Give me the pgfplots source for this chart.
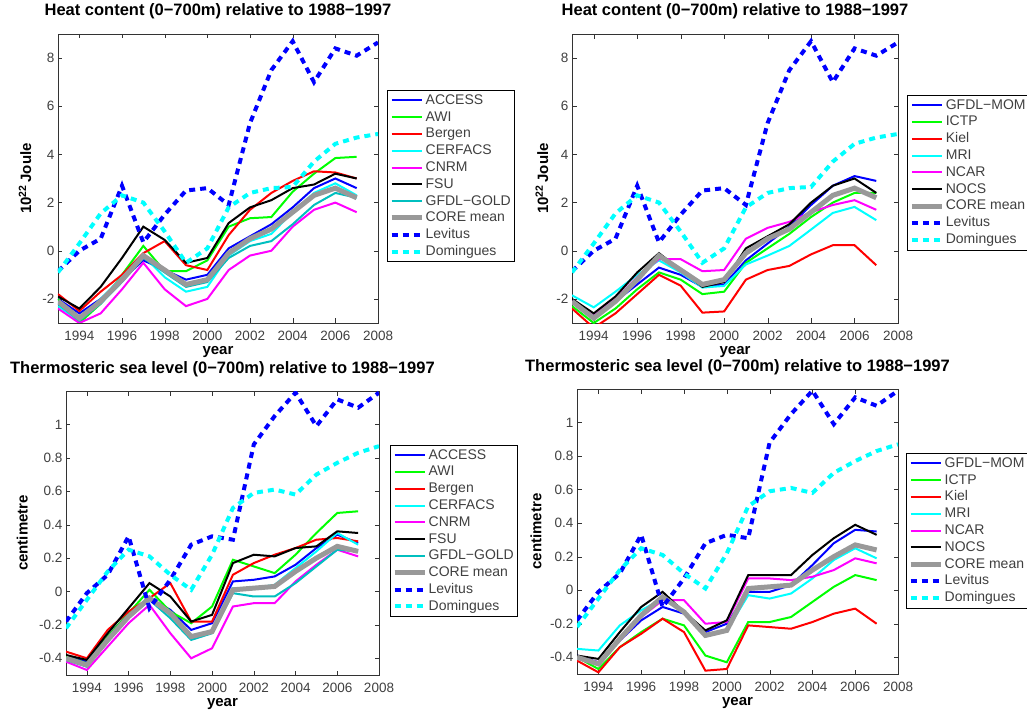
\documentclass[border=0pt]{standalone}
\usepackage{fontspec}
\setmainfont{Liberation Sans}
\usepackage{pgfplots}
\pgfplotsset{compat=1.18}
\usepackage{pgfplotstable}

\definecolor{mblue}{rgb}{0,0,1}
\definecolor{mgreen}{rgb}{0,1,0}
\definecolor{mred}{rgb}{1,0,0}
\definecolor{mcyan}{rgb}{0,1,1}
\definecolor{mmag}{rgb}{1,0,1}
\definecolor{gold}{rgb}{0,0.75,0.75}
\definecolor{coregray}{rgb}{0.6,0.6,0.6}
\definecolor{tickgray}{rgb}{0.25,0.25,0.25}

% heat content, 10^22 J
\pgfplotstableread{
year ACCESS AWI Bergen CERFACS CNRM FSU GOLD CORE
1993 -2.0 -2.0 -1.8 -2.3 -2.4 -1.9 -2.2 -2.1
1994 -2.6 -3.0 -2.5 -2.9 -3.0 -2.4 -2.9 -2.8
1995 -2.0 -2.2 -1.7 -2.0 -2.6 -1.5 -2.2 -2.1
1996 -1.2 -1.0 -1.0 -1.1 -1.6 -0.3 -1.3 -1.2
1997 -0.4 0.2 -0.1 -0.2 -0.5 1.0 -0.3 -0.2
1998 -0.8 -0.85 0.4 -1.1 -1.6 0.45 -0.9 -0.8
1999 -1.2 -0.85 -0.6 -1.7 -2.3 -0.5 -1.5 -1.4
2000 -1.0 -0.4 -0.8 -1.5 -2.0 -0.3 -1.3 -1.2
2001 0.1 1.0 0.65 -0.2 -0.8 1.15 -0.3 -0.1
2002 0.6 1.35 1.7 0.4 -0.2 1.8 0.2 0.5
2003 1.1 1.4 2.4 0.7 0.0 2.1 0.4 0.9
2004 1.8 2.45 2.9 1.6 1.0 2.6 1.1 1.6
2005 2.6 3.2 3.3 2.4 1.7 2.75 1.9 2.3
2006 3.0 3.85 3.25 2.8 2.0 3.2 2.4 2.6
2007 2.6 3.9 3.0 2.3 1.6 3.0 2.2 2.2
}\hcA

\pgfplotstableread{
year MOM ICTP Kiel MRI NCAR NOCS CORE
1993 -2.1 -2.3 -2.4 -1.85 -2.1 -2.0 -2.1
1994 -2.7 -3.0 -3.2 -2.35 -2.7 -2.6 -2.8
1995 -2.1 -2.4 -2.6 -1.7 -2.0 -1.9 -2.1
1996 -1.4 -1.6 -1.8 -1.0 -1.1 -0.9 -1.2
1997 -0.7 -0.9 -1.0 -0.4 -0.35 -0.1 -0.2
1998 -1.0 -1.2 -1.45 -0.9 -0.35 -0.8 -0.8
1999 -1.5 -1.8 -2.57 -1.53 -0.85 -1.5 -1.4
2000 -1.4 -1.7 -2.52 -1.46 -0.8 -1.3 -1.2
2001 -0.4 -0.5 -1.2 -0.57 0.5 0.1 -0.1
2002 0.3 0.1 -0.8 -0.2 0.95 0.6 0.5
2003 1.0 0.7 -0.63 0.2 1.2 1.1 0.9
2004 1.9 1.4 -0.15 0.88 1.6 2.0 1.6
2005 2.7 2.0 0.23 1.57 1.9 2.7 2.3
2006 3.1 2.4 0.23 1.82 2.1 3.0 2.6
2007 2.9 2.4 -0.6 1.27 1.7 2.4 2.2
}\hcB

\pgfplotstableread{
year Levitus Domingues
1993 -0.85 -0.9
1994 0.0 0.3
1995 0.5 1.55
1996 2.7 2.3
1997 0.35 2.0
1998 1.5 0.8
1999 2.5 -0.5
2000 2.6 0.1
2001 1.9 1.8
2002 5.3 2.4
2003 7.5 2.6
2004 8.7 2.65
2005 7.0 3.7
2006 8.4 4.44
2007 8.1 4.7
2008 8.65 4.85
}\hcObs

% thermosteric sea level, cm
\pgfplotstableread{
year ACCESS AWI Bergen CERFACS CNRM FSU GOLD CORE
1993 -0.39 -0.39 -0.36 -0.40 -0.42 -0.38 -0.41 -0.40
1994 -0.42 -0.43 -0.40 -0.45 -0.47 -0.41 -0.45 -0.44
1995 -0.27 -0.27 -0.23 -0.30 -0.33 -0.25 -0.30 -0.29
1996 -0.13 -0.13 -0.12 -0.15 -0.19 -0.10 -0.16 -0.15
1997 -0.04 0.01 -0.04 -0.03 -0.08 0.05 -0.05 -0.04
1998 -0.11 -0.12 0.05 -0.14 -0.25 -0.03 -0.16 -0.13
1999 -0.23 -0.19 -0.18 -0.28 -0.40 -0.18 -0.29 -0.27
2000 -0.19 -0.09 -0.18 -0.24 -0.34 -0.14 -0.25 -0.24
2001 0.06 0.19 0.10 0.02 -0.09 0.17 -0.01 0.01
2002 0.07 0.15 0.17 0.02 -0.07 0.22 -0.03 0.02
2003 0.09 0.11 0.22 0.04 -0.07 0.21 -0.03 0.03
2004 0.16 0.22 0.26 0.14 0.06 0.26 0.05 0.12
2005 0.26 0.35 0.31 0.24 0.16 0.27 0.15 0.20
2006 0.34 0.47 0.32 0.35 0.25 0.36 0.25 0.27
2007 0.29 0.48 0.30 0.28 0.21 0.35 0.24 0.24
}\slA

\pgfplotstableread{
year MOM ICTP Kiel MRI NCAR NOCS CORE
1993 -0.39 -0.40 -0.42 -0.35 -0.40 -0.39 -0.40
1994 -0.43 -0.47 -0.49 -0.36 -0.43 -0.41 -0.44
1995 -0.30 -0.34 -0.34 -0.21 -0.30 -0.25 -0.29
1996 -0.18 -0.25 -0.26 -0.12 -0.16 -0.10 -0.15
1997 -0.10 -0.17 -0.17 -0.05 -0.06 -0.01 -0.04
1998 -0.14 -0.21 -0.25 -0.13 -0.06 -0.13 -0.13
1999 -0.25 -0.39 -0.48 -0.27 -0.20 -0.24 -0.27
2000 -0.20 -0.43 -0.47 -0.24 -0.19 -0.18 -0.24
2001 -0.01 -0.19 -0.21 -0.03 0.07 0.09 0.01
2002 -0.01 -0.19 -0.22 -0.05 0.07 0.09 0.02
2003 0.03 -0.16 -0.23 -0.02 0.06 0.09 0.03
2004 0.15 -0.07 -0.19 0.07 0.08 0.21 0.12
2005 0.28 0.02 -0.14 0.18 0.12 0.31 0.20
2006 0.36 0.09 -0.11 0.25 0.19 0.39 0.27
2007 0.35 0.06 -0.20 0.19 0.16 0.33 0.24
}\slB

\pgfplotstableread{
year Levitus Domingues
1993 -0.18 -0.22
1994 -0.01 -0.05
1995 0.10 0.12
1996 0.33 0.25
1997 -0.10 0.21
1998 0.07 0.10
1999 0.28 0.01
2000 0.33 0.22
2001 0.31 0.50
2002 0.88 0.59
2003 1.05 0.61
2004 1.19 0.58
2005 0.99 0.70
2006 1.15 0.77
2007 1.10 0.83
2008 1.19 0.87
}\slObs

\pgfplotsset{
  mat/.style={
    scale only axis,
    xmin=1993, xmax=2008,
    xtick={1994,1996,...,2008},
    no markers,
    axis line style={black!80},
    tick style={black!80},
    major tick length=4.5pt,
    /pgf/number format/assume math mode=true,
    ticklabel style={font=\fontsize{13.5}{15}\selectfont, text=tickgray},
    xticklabel style={/pgf/number format/1000 sep={}, anchor=base, yshift=-17pt},
    xlabel={year},
    xlabel style={font=\bfseries\fontsize{15}{16}\selectfont,
                  at={(axis description cs:0.5,0)}, anchor=base, yshift=-31pt},
    ylabel style={font=\bfseries\fontsize{15}{16}\selectfont},
    title style={font=\bfseries\fontsize{16.5}{18}\selectfont,
                 at={(axis description cs:0.5,1)}, anchor=base, yshift=12pt},
    legend style={font=\fontsize{14}{14}\selectfont, text=tickgray,
                  draw=black, fill=white, anchor=north west,
                  inner xsep=2pt, inner ysep=2pt, row sep=0.6pt,
                  nodes={inner sep=1.5pt, text height=10.5pt, text depth=2.7pt}},
    legend cell align=left,
    legend image code/.code={\draw[##1] (0pt,0pt) -- (30pt,0pt);},
  },
  mline/.style={line width=2pt},
  cline/.style={coregray, line width=5pt},
  oline/.style={line width=4pt, dash pattern=on 6pt off 5pt},
}

\begin{document}
\begin{tikzpicture}
\path[use as bounding box] (0,0) rectangle (1027pt,713pt);

% top left
\begin{axis}[mat, at={(58pt,390pt)}, anchor=south west,
  width=320pt, height=289pt, ymin=-3, ymax=9, ytick={-2,0,...,8},
  title={Heat content (0−700m) relative to 1988−1997},
  ylabel={10\textsuperscript{22}\,Joule},
  ylabel style={at={(axis description cs:-0.103,0.5)}, anchor=center},
  legend style={at={(1.028,0.806)}}]
\addplot[mblue, mline] table[x=year, y=ACCESS] {\hcA};
\addplot[mgreen, mline] table[x=year, y=AWI] {\hcA};
\addplot[mred, mline] table[x=year, y=Bergen] {\hcA};
\addplot[mcyan, mline] table[x=year, y=CERFACS] {\hcA};
\addplot[mmag, mline] table[x=year, y=CNRM] {\hcA};
\addplot[black, mline] table[x=year, y=FSU] {\hcA};
\addplot[gold, mline] table[x=year, y=GOLD] {\hcA};
\addplot[cline] table[x=year, y=CORE] {\hcA};
\addplot[mblue, oline] table[x=year, y=Levitus] {\hcObs};
\addplot[mcyan, oline] table[x=year, y=Domingues] {\hcObs};
\legend{ACCESS, AWI, Bergen, CERFACS, CNRM, FSU, GFDL−GOLD, CORE mean, Levitus, Domingues}
\end{axis}

% top right
\begin{axis}[mat, at={(572pt,390pt)}, anchor=south west,
  width=326pt, height=289pt, ymin=-3, ymax=9, ytick={-2,0,...,8},
  title={Heat content (0−700m) relative to 1988−1997},
  ylabel={10\textsuperscript{22}\,Joule},
  ylabel style={at={(axis description cs:-0.092,0.5)}, anchor=center},
  legend style={at={(1.028,0.789)}}]
\addplot[mblue, mline] table[x=year, y=MOM] {\hcB};
\addplot[mgreen, mline] table[x=year, y=ICTP] {\hcB};
\addplot[mred, mline] table[x=year, y=Kiel] {\hcB};
\addplot[mcyan, mline] table[x=year, y=MRI] {\hcB};
\addplot[mmag, mline] table[x=year, y=NCAR] {\hcB};
\addplot[black, mline] table[x=year, y=NOCS] {\hcB};
\addplot[cline] table[x=year, y=CORE] {\hcB};
\addplot[mblue, oline] table[x=year, y=Levitus] {\hcObs};
\addplot[mcyan, oline] table[x=year, y=Domingues] {\hcObs};
\legend{GFDL−MOM, ICTP, Kiel, MRI, NCAR, NOCS, CORE mean, Levitus, Domingues}
\end{axis}

% bottom left
\begin{axis}[mat, at={(66pt,38pt)}, anchor=south west,
  width=313pt, height=284pt, ymin=-0.5, ymax=1.2, ytick={-0.4,-0.2,...,1.0},
  title={Thermosteric sea level (0−700m) relative to 1988−1997},
  ylabel={centimetre},
  ylabel style={at={(axis description cs:-0.14,0.5)}, anchor=center},
  legend style={at={(1.035,0.81)}}]
\addplot[mblue, mline] table[x=year, y=ACCESS] {\slA};
\addplot[mgreen, mline] table[x=year, y=AWI] {\slA};
\addplot[mred, mline] table[x=year, y=Bergen] {\slA};
\addplot[mcyan, mline] table[x=year, y=CERFACS] {\slA};
\addplot[mmag, mline] table[x=year, y=CNRM] {\slA};
\addplot[black, mline] table[x=year, y=FSU] {\slA};
\addplot[gold, mline] table[x=year, y=GOLD] {\slA};
\addplot[cline] table[x=year, y=CORE] {\slA};
\addplot[mblue, oline] table[x=year, y=Levitus] {\slObs};
\addplot[mcyan, oline] table[x=year, y=Domingues] {\slObs};
\legend{ACCESS, AWI, Bergen, CERFACS, CNRM, FSU, GFDL−GOLD, CORE mean, Levitus, Domingues}
\end{axis}

% bottom right
\begin{axis}[mat, at={(577pt,39pt)}, anchor=south west,
  width=321pt, height=285pt, ymin=-0.5, ymax=1.2, ytick={-0.4,-0.2,...,1.0},
  title={Thermosteric sea level (0−700m) relative to 1988−1997},
  ylabel={centimetre},
  ylabel style={at={(axis description cs:-0.128,0.5)}, anchor=center},
  legend style={at={(1.025,0.775)}}]
\addplot[mblue, mline] table[x=year, y=MOM] {\slB};
\addplot[mgreen, mline] table[x=year, y=ICTP] {\slB};
\addplot[mred, mline] table[x=year, y=Kiel] {\slB};
\addplot[mcyan, mline] table[x=year, y=MRI] {\slB};
\addplot[mmag, mline] table[x=year, y=NCAR] {\slB};
\addplot[black, mline] table[x=year, y=NOCS] {\slB};
\addplot[cline] table[x=year, y=CORE] {\slB};
\addplot[mblue, oline] table[x=year, y=Levitus] {\slObs};
\addplot[mcyan, oline] table[x=year, y=Domingues] {\slObs};
\legend{GFDL−MOM, ICTP, Kiel, MRI, NCAR, NOCS, CORE mean, Levitus, Domingues}
\end{axis}
\end{tikzpicture}
\end{document}
